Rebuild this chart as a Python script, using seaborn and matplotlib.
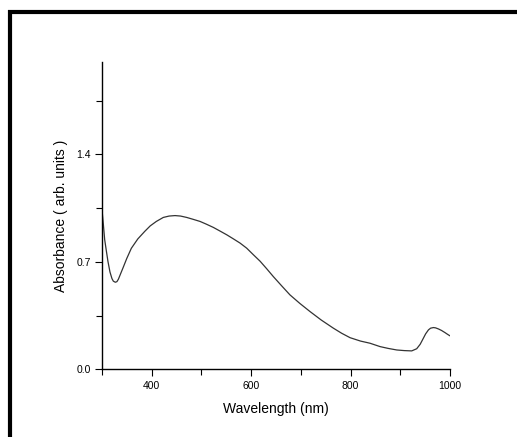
import numpy as np
import pandas as pd
import matplotlib
matplotlib.use("Agg")
import matplotlib.pyplot as plt
import seaborn as sns
from matplotlib.lines import Line2D

# Values
wavelength = [300, 302.7, 305.4, 309.4, 312, 316, 320, 322.8, 326.8, 330, 333, 337, 342.3, 349.7, 359,
              372, 385.9, 397, 409.3, 423.3, 435, 446.9, 458, 470.4, 483, 497.2, 510, 524, 537,
              550.9, 564, 577.7, 591, 604.5, 618, 631, 644.6, 661, 678, 698, 718.5, 741, 765.4,
              782, 799, 820, 839, 859.3, 876, 893, 908, 923, 933, 940, 946.5, 951, 956.7, 961,
              966.7, 971, 976.7, 983, 990, 995, 1000]
absorbance = [1.04, 0.945, 0.845, 0.758, 0.703, 0.635, 0.592, 0.575, 0.568, 0.572, 0.588, 0.62, 0.662, 0.722, 0.789,
              0.85, 0.899, 0.935, 0.964, 0.99, 0.999, 1.002, 0.999, 0.99, 0.978, 0.964, 0.946, 0.925, 0.902,
              0.877, 0.851, 0.823, 0.79, 0.747, 0.705, 0.657, 0.605, 0.546, 0.486, 0.43, 0.377, 0.322, 0.269,
              0.236, 0.207, 0.185, 0.171, 0.149, 0.137, 0.127, 0.123, 0.121, 0.135, 0.164, 0.204, 0.232, 0.258, 0.269,
              0.273, 0.271, 0.264, 0.254, 0.240, 0.229, 0.219]

Data = pd.DataFrame({"Wavelength": wavelength, "Absorbance": absorbance})

sns.set_style("ticks")
plt.rcParams["font.family"] = ["Liberation Sans", "DejaVu Sans"]
plt.rcParams["text.color"] = "black"
plt.rcParams["axes.labelcolor"] = "black"
plt.rcParams["xtick.color"] = "black"
plt.rcParams["ytick.color"] = "black"

fig = plt.figure(figsize=(5.17, 4.37), dpi=100)
ax = fig.add_axes([0.1973, 0.1545, 0.6731, 0.7029])

sns.lineplot(data=Data, x="Wavelength", y="Absorbance", ax=ax, color="#333333", linewidth=0.9)

ax.set_xlim(300, 1000)
ax.set_ylim(0, 2.0)
ax.set_xticks([400, 600, 800, 1000])
ax.set_xticks([300, 500, 700, 900], minor=True)
ax.set_yticks([0.0, 0.7, 1.4])
ax.set_yticks([0.35, 1.05, 1.75], minor=True)
ax.set_yticklabels(["0.0", "0.7", "1.4"])
ax.tick_params(which="major", length=5, width=0.8, labelsize=7.5, pad=3)
ax.tick_params(which="minor", length=4, width=0.8)
sns.despine(ax=ax)
for s in ["left", "bottom"]:
    ax.spines[s].set_linewidth(1.0)
    ax.spines[s].set_color("black")

ax.set_xlabel("Wavelength (nm)", fontsize=10, labelpad=8)
ax.set_ylabel("Absorbance ( arb. units )", fontsize=10, labelpad=6)

# thick frame on top and left edge
W, H = 517, 437
fig.add_artist(Line2D([8 / W, 1], [1 - 12 / H, 1 - 12 / H], color="black", linewidth=3,
                      solid_capstyle="butt", transform=fig.transFigure))
fig.add_artist(Line2D([10 / W, 10 / W], [0, 1 - 10 / H], color="black", linewidth=3,
                      solid_capstyle="butt", transform=fig.transFigure))

fig.savefig("out.png", dpi=100)
